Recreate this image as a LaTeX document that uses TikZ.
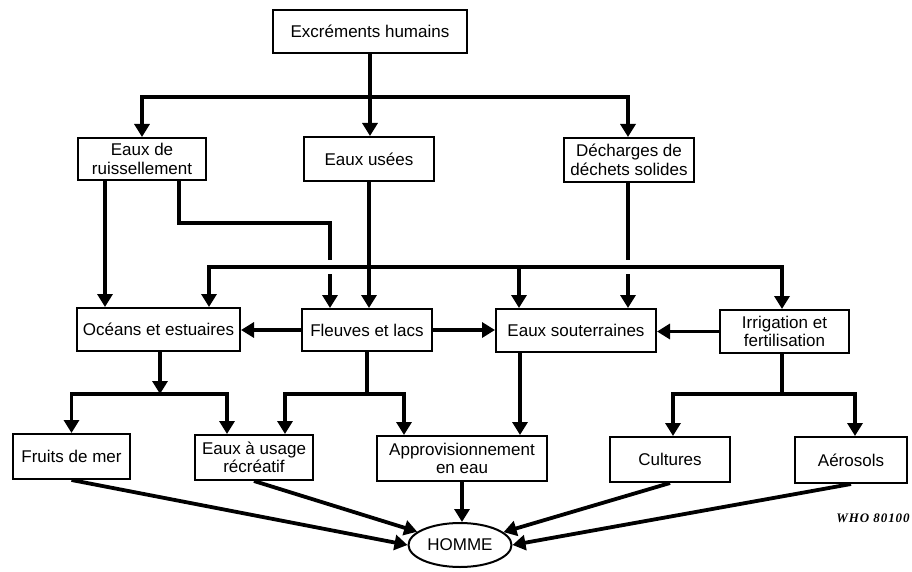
\documentclass[tikz,border=0pt]{standalone}
\usepackage{fontspec}
\setmainfont{Liberation Sans}
\newfontfamily\whofont[LetterSpace=7]{Liberation Serif}
\usetikzlibrary{arrows.meta,shapes.geometric,calc}
\begin{document}
\begin{tikzpicture}[x=1pt,y=1pt,
  box/.style={draw, line width=2pt, align=center, inner sep=0pt,
    font=\fontsize{17}{18.5}\selectfont},
  conn/.style={line width=3.8pt},
  arr/.style={conn, -{Triangle[length=13pt,width=15pt]}},
  halo/.style={conn, preaction={draw=white, line width=14pt}},
]
\useasboundingbox (0,0) rectangle (912,-572);

% level 0
\node[box, minimum width=194pt, minimum height=43pt] (exc) at (370,-31.5) {Excréments humains};
% level 1
\node[box, minimum width=128pt, minimum height=42pt] (ruis) at (142,-159) {Eaux de\\ruissellement};
\node[box, minimum width=130pt, minimum height=44pt] (usees) at (369,-159) {Eaux usées};
\node[box, minimum width=130pt, minimum height=44pt] (dech) at (629,-160) {Décharges de\\déchets solides};
% level 2
\node[box, minimum width=163pt, minimum height=43pt] (oce) at (158.5,-329.5) {Océans et estuaires};
\node[box, minimum width=130pt, minimum height=42pt] (fleu) at (367,-330) {Fleuves et lacs};
\node[box, minimum width=160pt, minimum height=43pt] (sout) at (576,-330.5) {Eaux souterraines};
\node[box, minimum width=129pt, minimum height=43pt] (irr) at (784.5,-331.5) {Irrigation et\\fertilisation};
% level 3
\node[box, minimum width=117pt, minimum height=45pt] (fruits) at (71.5,-456.5) {Fruits de mer};
\node[box, minimum width=118pt, minimum height=45pt] (recr) at (254,-457.5) {Eaux à usage\\récréatif};
\node[box, minimum width=170pt, minimum height=45pt] (appro) at (462,-458.5) {Approvisionnement\\en eau};
\node[box, minimum width=120pt, minimum height=45pt] (cult) at (670,-459.5) {Cultures};
\node[box, minimum width=112pt, minimum height=46pt] (aero) at (851,-460) {Aérosols};
% final
\node[box, ellipse, minimum width=103pt, minimum height=44pt] (homme) at (460,-545) {HOMME};
\node[font=\whofont\bfseries\itshape\fontsize{13}{14}\selectfont] (who) at (873,-518) {WHO 80100};

% helper coordinates
\coordinate (yA) at (0,-97);
\coordinate (yB) at (0,-267);
\coordinate (yC) at (0,-394);
\coordinate (xA) at (105,0);
\coordinate (xB) at (179,0);
\coordinate (xC) at (209,0);
\coordinate (xD) at (519,0);
\coordinate (xE) at (628,0);
\coordinate (xF) at (782,0);
\coordinate (xG) at (160,0);
\coordinate (xH) at (227,0);
\coordinate (xI) at (285,0);
\coordinate (xJ) at (404,0);
\coordinate (xK) at (520,0);
\coordinate (xL) at (673,0);
\coordinate (xM) at (855,0);
\coordinate (j1) at (330,-223);

% from excrements
\coordinate (b1) at (exc.south |- yA);
\draw[conn] (exc.south) -- (b1);
\draw[arr] (b1) -| (ruis.north);
\draw[arr] (b1) -- (usees.north -| b1);
\draw[arr] (b1) -| (dech.north -| xE);

% from level 1
\draw[arr] (ruis.south -| xA) -- (oce.north -| xA);
\draw[arr] (ruis.south -| xB) |- (j1) -- (fleu.north -| j1);
\draw[arr] (dech.south -| xE) -- (sout.north -| xE);

% distribution bus from Eaux usees
\coordinate (b2) at (usees.south |- yB);
\draw[halo] (xC |- yB) -- (xF |- yB);
\draw[arr] (b2) -| (oce.north -| xC);
\draw[arr] (b2) -| (sout.north -| xD);
\draw[arr] (b2) -| (irr.north -| xF);
\draw[arr] (usees.south) -- (fleu.north -| usees.south);

% horizontal at level 2
\draw[arr] (fleu.west) -- (oce.east |- fleu.west);
\draw[arr] (fleu.east) -- (sout.west |- fleu.east);
\draw[arr] (irr.west) -- (sout.east |- irr.west);

% level 2 to level 3
\coordinate (b3) at (xG |- yC);
\draw[arr] (oce.south -| xG) -- (b3);
\draw[arr] (b3) -| (fruits.north);
\draw[arr] (b3) -| (recr.north -| xH);

\coordinate (b4) at (fleu.south |- yC);
\draw[conn] (fleu.south) -- (b4);
\draw[arr] (b4) -| (recr.north -| xI);
\draw[arr] (b4) -| (appro.north -| xJ);

\draw[arr] (sout.south -| xK) -- (appro.north -| xK);

\coordinate (b5) at (xF |- yC);
\draw[conn] (irr.south -| xF) -- (b5);
\draw[arr] (b5) -| (cult.north -| xL);
\draw[arr] (b5) -| (aero.north -| xM);

% to HOMME
\draw[arr] (fruits.south) -- (homme.west);
\draw[arr] (recr.south) -- (homme);
\draw[arr] (appro.south) -- (homme.north -| appro.south);
\draw[arr] (cult.south) -- (homme);
\draw[arr] (aero.south) -- (homme.east);
\end{tikzpicture}
\end{document}
